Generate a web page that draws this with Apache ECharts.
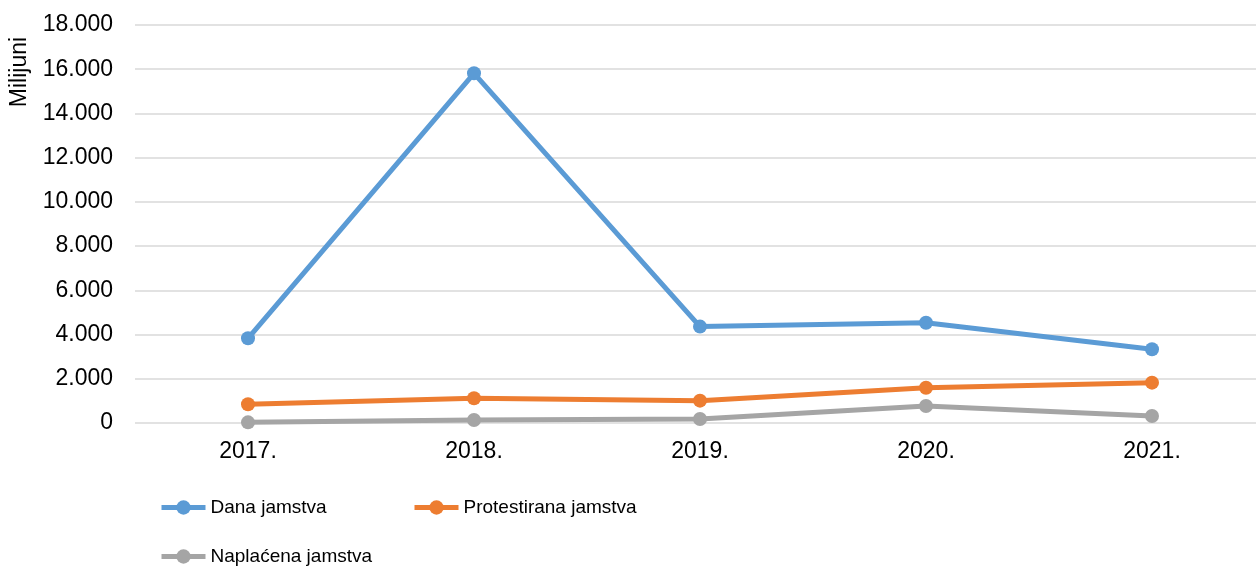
<!DOCTYPE html>
<html>
<head>
<meta charset="utf-8">
<script src="https://cdn.jsdelivr.net/npm/echarts@6/dist/echarts.min.js"></script>
<style>
  html, body { margin: 0; padding: 0; background: #fff; }
  #chart { width: 1256px; height: 569px; }
</style>
</head>
<body>
<div id="chart"></div>
<script>
// 数据（单位：百万）
const years = ['2017.', '2018.', '2019.', '2020.', '2021.'];
const danaJamstva = [3830, 15815, 4360, 4535, 3335];
const protestiranaJamstva = [845, 1117, 1010, 1597, 1824];
const naplacenaJamstva = [30, 136, 180, 770, 316];
const yTicks = [0, 2000, 4000, 6000, 8000, 10000, 12000, 14000, 16000, 18000];

const FONT = '"Liberation Sans", Arial, sans-serif';
const COLORS = { dana: '#5B9BD5', prot: '#ED7D31', napl: '#A5A5A5' };

// 千位用点分隔：18000 -> 18.000
const fmtThousands = v => String(v).replace(/\B(?=(\d{3})+(?!\d))/g, '.');

function lineSeries(name, data, color) {
  return {
    name, type: 'line', data,
    symbol: 'circle', symbolSize: 14,
    lineStyle: { color, width: 5 },
    itemStyle: { color },
    emphasis: { disabled: true },
  };
}

// 每个图例单独放置（模仿 Excel 的两列布局）
function legendAt(name, left, top) {
  return {
    data: [name], left, top,
    itemWidth: 44, itemHeight: 18, itemGap: 0,
    lineStyle: { width: 5 },
    textStyle: { fontFamily: FONT, fontSize: 19, color: '#000' },
  };
}

const chart = echarts.init(document.getElementById('chart'));
chart.setOption({
  animation: false,
  backgroundColor: '#fff',
  grid: { left: 135, top: 25, width: 1130, height: 398, outerBoundsMode: 'none' },
  xAxis: {
    type: 'category', data: years,
    axisLine: { show: false }, axisTick: { show: false },
    axisLabel: { fontFamily: FONT, fontSize: 23, color: '#000', margin: 17 },
  },
  yAxis: {
    type: 'value', min: yTicks[0], max: yTicks[yTicks.length - 1], interval: 2000,
    axisLine: { show: false }, axisTick: { show: false },
    axisLabel: { fontFamily: FONT, fontSize: 23, color: '#000', margin: 22, formatter: fmtThousands },
    splitLine: { lineStyle: { color: '#D9D9D9', width: 1.5 } },
  },
  legend: [
    legendAt('Dana jamstva', 154, 493),
    legendAt('Protestirana jamstva', 407, 493),
    legendAt('Naplaćena jamstva', 154, 542),
  ],
  graphic: [{
    type: 'text', x: 20, y: 72, rotation: Math.PI / 2,
    style: { text: 'Milijuni', fontFamily: FONT, fontSize: 23, fill: '#000',
             align: 'center', verticalAlign: 'middle' },
  }],
  series: [
    lineSeries('Dana jamstva', danaJamstva, COLORS.dana),
    lineSeries('Protestirana jamstva', protestiranaJamstva, COLORS.prot),
    lineSeries('Naplaćena jamstva', naplacenaJamstva, COLORS.napl),
  ],
});
</script>
</body>
</html>
